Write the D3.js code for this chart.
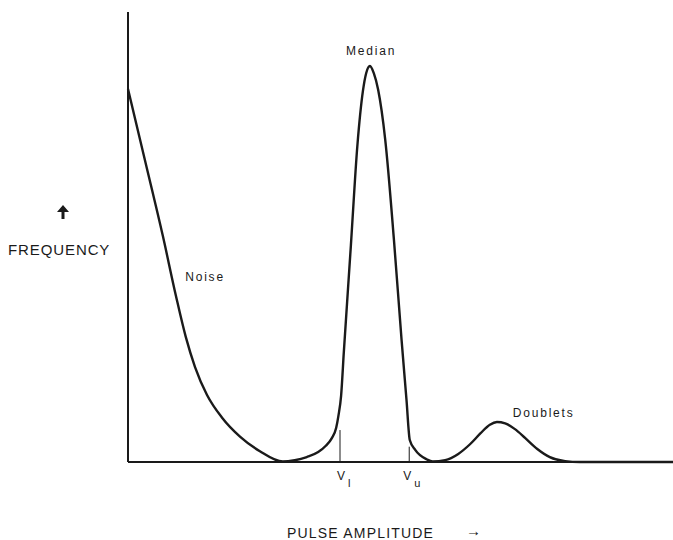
<!DOCTYPE html>
<html>
<head>
<meta charset="utf-8">
<script src="https://cdn.jsdelivr.net/npm/d3@7"></script>
<style>
  body { margin: 0; background: #fff; }
  svg text { font-family: "Liberation Sans", Arial, sans-serif; fill: #1a1a1a; }
</style>
</head>
<body>
<svg width="673" height="540"></svg>
<script>
// pulse amplitude and frequency (arbitrary units 0-100)
const amplitude = [0, 3.1, 6.4, 8.8, 10.6, 12.3, 14.5, 17.3, 20.6, 24.2, 28.4,
                   30.6, 32.8, 34.9, 36.3, 37.4, 38.2, 38.6, 39.1, 39.6, 40.9, 42.1, 43.1, 43.7, 44.4, 45.1, 45.9,
                   47.2, 48.8, 50.2, 51.1, 51.7, 52.7, 54.8, 55.9,
                   58.2, 60.6, 62.8, 64.7, 66.4, 67.7, 69.2, 71.0, 72.9, 75.1, 77.4, 80.2, 82.9, 100]
const frequency = [82.9, 67.1, 50.2, 36.9, 27.8, 21.1, 14.9, 9.8, 5.6, 2.4, 0.1,
                   0.4, 1.1, 2.2, 3.6, 5.3, 7.6, 10.2, 14.7, 24.4, 48.2, 70.5, 82.4, 86.4, 88.0, 86.4, 82.7,
                   71.6, 49.3, 27.1, 13.8, 4.9, 2.7, 0.6, 0.1,
                   0.4, 1.8, 4.0, 6.4, 8.3, 8.9, 8.6, 7.3, 5.3, 2.9, 1.1, 0.2, 0, 0]

// window limits V_l and V_u
const windowNames = ['l', 'u']
const windowAmp = [38.9, 51.6]
const windowFreq = [7.1, 3.4]

const labels = ['Median', 'Noise', 'Doublets']
const labelAmp = [40.0, 10.5, 70.6]
const labelFreq = [90.4, 40.2, 10.0]

const svg = d3.select('svg')
const margin = { top: 12, right: 0, bottom: 78, left: 128 }
const width = +svg.attr('width')
const height = +svg.attr('height')

const x = d3.scaleLinear().domain([0, 100]).range([margin.left, width - margin.right])
const y = d3.scaleLinear().domain([0, 100]).range([height - margin.bottom, margin.top])

const ink = '#1a1a1a'
const points = amplitude.map((a, i) => [a, frequency[i]])

// axes: plain lines, no ticks
svg.append('line')
   .attr('x1', x(0)).attr('x2', x(0))
   .attr('y1', y(0)).attr('y2', y(100))
   .attr('stroke', ink).attr('stroke-width', 2)

svg.append('line')
   .attr('x1', x(0)).attr('x2', x(100))
   .attr('y1', y(0)).attr('y2', y(0))
   .attr('stroke', ink).attr('stroke-width', 2)

const line = d3.line()
               .x(d => x(d[0]))
               .y(d => y(d[1]))
               .curve(d3.curveMonotoneX)

svg.append('path')
   .datum(points)
   .attr('d', line)
   .attr('fill', 'none')
   .attr('stroke', ink)
   .attr('stroke-width', 2.4)
   .attr('stroke-linejoin', 'round')

// window markers
const win = svg.selectAll('g.win')
               .data(windowNames)
               .enter().append('g')
               .attr('class', 'win')

win.append('line')
   .attr('x1', (d, i) => x(windowAmp[i])).attr('x2', (d, i) => x(windowAmp[i]))
   .attr('y1', y(0)).attr('y2', (d, i) => y(windowFreq[i]))
   .attr('stroke', ink).attr('stroke-width', 1)

const wt = win.append('text')
              .attr('x', (d, i) => x(windowAmp[i]) - (i ? 6 : 3))
              .attr('y', y(0) + 18)
              .attr('font-size', 12)
wt.append('tspan').text('V')
wt.append('tspan').attr('dy', 7).attr('dx', 3).attr('font-size', 11).text(d => d)

// peak labels
svg.selectAll('text.lab')
   .data(labels)
   .enter().append('text')
   .attr('class', 'lab')
   .attr('x', (d, i) => x(labelAmp[i]))
   .attr('y', (d, i) => y(labelFreq[i]))
   .attr('font-size', 12)
   .attr('letter-spacing', 1.8)
   .text(d => d)

// axis titles
svg.append('text')
   .attr('x', 8).attr('y', 255)
   .attr('font-size', 15)
   .attr('letter-spacing', 0.9)
   .text('FREQUENCY')

svg.append('path')
   .attr('d', 'M63,205 L57,212 L61.5,212 L61.5,219 L64.5,219 L64.5,212 L69,212 Z')
   .attr('fill', ink)

svg.append('text')
   .attr('x', 287).attr('y', 538)
   .attr('font-size', 14)
   .attr('letter-spacing', 1.2)
   .text('PULSE AMPLITUDE')

svg.append('text')
   .attr('x', 466).attr('y', 536)
   .attr('font-size', 15)
   .text('\u2192')
</script>
</body>
</html>
